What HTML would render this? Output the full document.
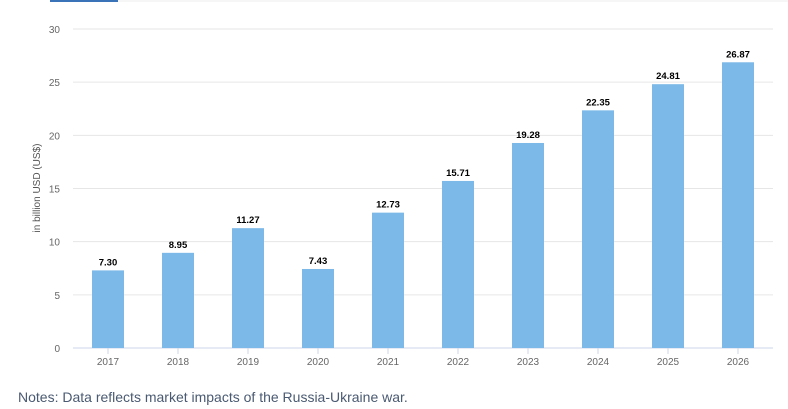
<!DOCTYPE html>
<html><head><meta charset="utf-8"><style>
body{margin:0;width:788px;height:409px;background:#fff;overflow:hidden;font-family:"Liberation Sans",sans-serif}
svg{position:absolute;left:0;top:0}
</style></head><body>
<svg width="788" height="409">
<rect x="50" y="0" width="68" height="2" fill="#3b73b9"/>
<line x1="118" y1="1" x2="788" y2="1" stroke="#eee"/>
<g id="grid"></g>
<g id="bars"></g>
<text x="40" y="188" transform="rotate(-90 40 188)" text-anchor="middle" font-size="10" fill="#555">in billion USD (US$)</text>
<text x="18" y="402" font-size="14" fill="#4a5a72">Notes: Data reflects market impacts of the Russia-Ukraine war.</text>
</svg>
<script>
const categories=["2017","2018","2019","2020","2021","2022","2023","2024","2025","2026"];
const values=[7.30,8.95,11.27,7.43,12.73,15.71,19.28,22.35,24.81,26.87];
const yTicks=[0,5,10,15,20,25,30];
const NS="http://www.w3.org/2000/svg";
const y0=348,y1=29,left=73,right=773;
const y=v=>y0-(v-0)/(30-0)*(y0-y1);
const step=(right-left)/categories.length;
const x=i=>left+step*(i+0.5);
function mk(t,a,p){const e=document.createElementNS(NS,t);for(const k in a)e.setAttribute(k,a[k]);p.appendChild(e);return e;}
const g=document.getElementById('grid'),b=document.getElementById('bars');
yTicks.forEach(t=>{
 const l=mk('line',{x1:left,x2:right,y1:y(t),y2:y(t),stroke:t===0?'#ccd6eb':'#e6e6e6'},g);
 
 
 const tx=mk('text',{x:60,y:y(t)+4,'text-anchor':'end','font-size':'10',fill:'#666'},g);
 tx.textContent=t;
 
 
});
categories.forEach((c,i)=>{
 const cx=x(i);
 const r=mk('rect',{x:cx-16,y:y(values[i]),width:32,height:y0-y(values[i]),fill:'#7cb9e8'},b);
 
 
 const tk=mk('line',{x1:cx,x2:cx,y1:y0,y2:y0+6,stroke:'#ccd6eb'},b);
 
 
 const lb=mk('text',{x:cx,y:365,'text-anchor':'middle','font-size':'10',fill:'#666'},b);
 lb.textContent=c;
 
 
 const vl=mk('text',{x:cx,y:y(values[i])-5,'text-anchor':'middle','font-size':'9.5','font-weight':'bold',fill:'#000'},b);
 vl.textContent=values[i].toFixed(2);
 
 
});
</script>
</body></html>
